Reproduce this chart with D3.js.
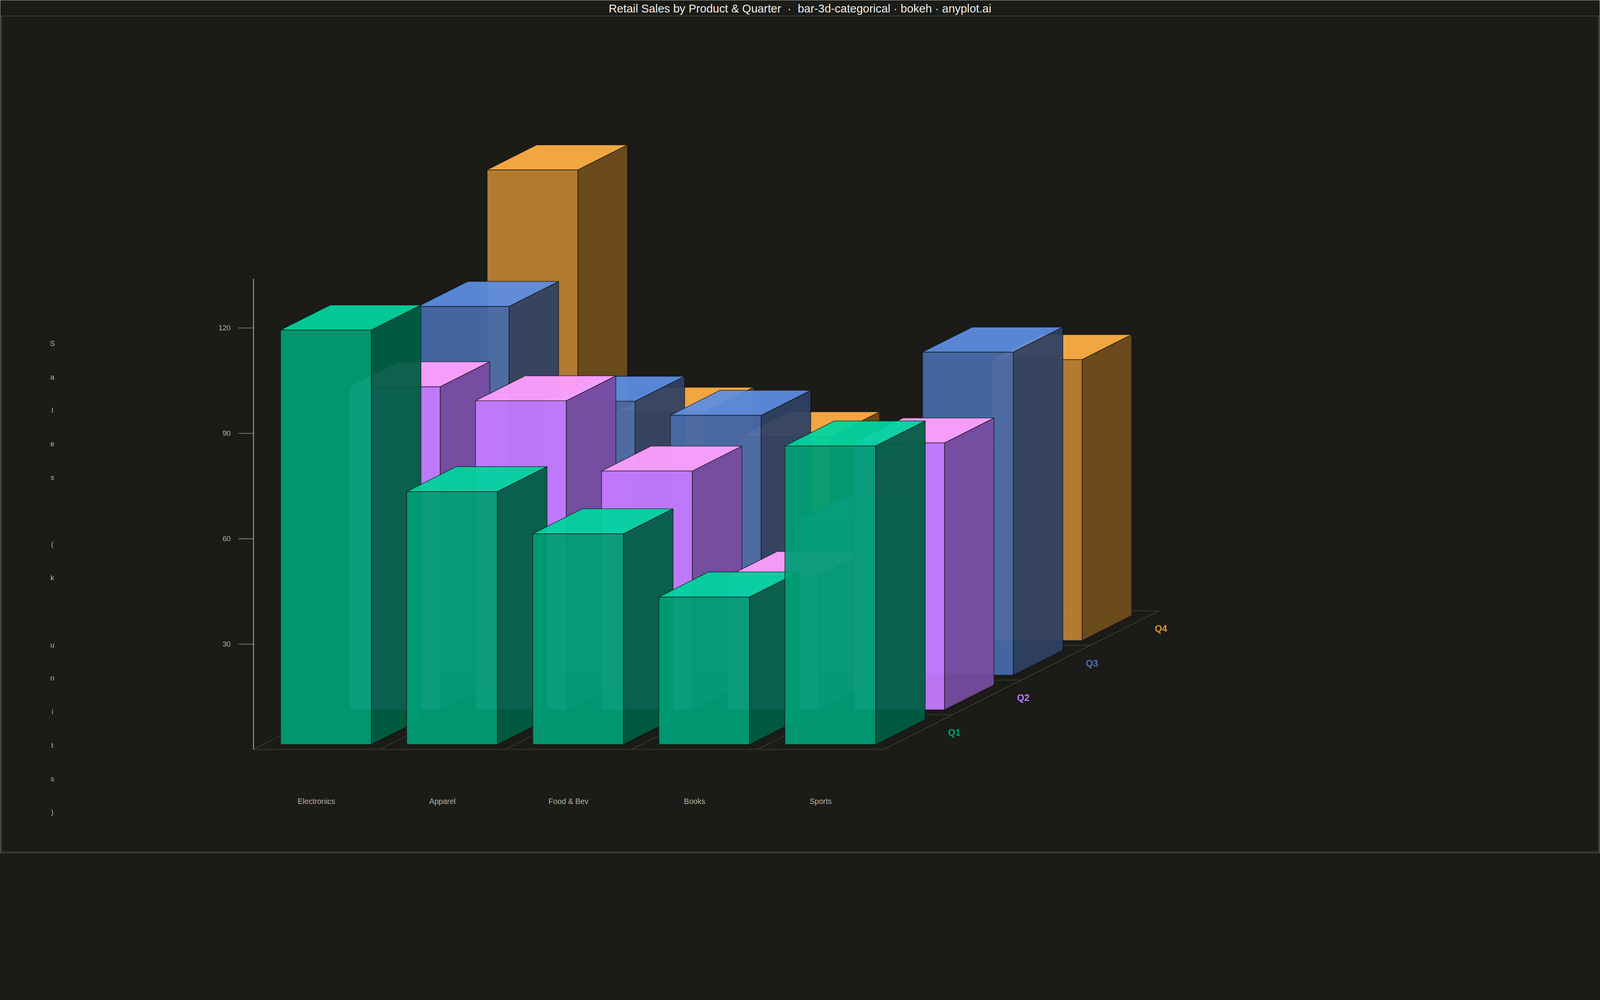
<!DOCTYPE html>
<html>
<head>
<meta charset="utf-8">
<script src="https://cdn.jsdelivr.net/npm/d3@7"></script>
<style>
  html, body { margin: 0; padding: 0; background: #1b1b17; overflow: hidden; }
  svg { display: block; width: 100vw; height: auto; }
</style>
</head>
<body>
<div id="chart"></div>
<script>
// ---- data ----
var categories = ["Electronics", "Apparel", "Food & Bev", "Books", "Sports"];
var quarters = ["Q1", "Q2", "Q3", "Q4"];
var salesQ1 = [118, 72, 60, 42, 85];
var salesQ2 = [92, 88, 68, 38, 76];
var salesQ3 = [105, 78, 74, 44, 92];
var salesQ4 = [134, 65, 58, 50, 80];
var yTicks = [30, 60, 90, 120];
var yLabel = "Sales (k units)";
var title = "Retail Sales by Product & Quarter  \u00b7  bar-3d-categorical \u00b7 bokeh \u00b7 anyplot.ai";

var series = [salesQ1, salesQ2, salesQ3, salesQ4];

// ---- look ----
var svgWidth = 4800;
var svgHeight = 2561;
var bg = "#1b1b17";
var font = "'Liberation Sans', Arial, sans-serif";

// colours as they appear on the dark background (front, top, side)
var frontColors = ["#00966f", "#bb74f6", "#4465a0", "#b27c31"];
var topColors   = ["#00c896", "#f598f5", "#5886d4", "#f2a642"];
var sideColors  = ["#005a40", "#724898", "#2e3f5f", "#6c4b1d"];
var labelColors = ["#00a078", "#c07af5", "#4a70b5", "#d48e3a"];
var faceAlpha = 0.94;

// undo the blend so the face shows the observed colour over the background
function base(c) {
  var o = d3.rgb(c), b = d3.rgb(bg);
  var f = function(v, w) { return Math.max(0, Math.min(255, Math.round((v - (1 - faceAlpha) * w) / faceAlpha))); };
  return d3.rgb(f(o.r, b.r), f(o.g, b.g), f(o.b, b.b)).formatHex();
}

// floor geometry
var floorLeft = 760, floorRight = 2651, floorY = 2249;
var depthDx = 206.5, depthDy = -104;   // screen shift for one quarter slot
var pxPerUnit = 10.543;

// the svg scales to the window width, drawn in 4800x2561 units
var svg = d3.select("#chart")
  .append("svg")
  .attr("viewBox", "0 0 " + svgWidth + " " + svgHeight)
  .attr("preserveAspectRatio", "xMidYMid meet");

svg.append("rect")
  .attr("width", svgWidth).attr("height", svgHeight)
  .attr("fill", bg);

// frames
svg.append("rect")
  .attr("x", 0.5).attr("y", 0.5)
  .attr("width", svgWidth - 1).attr("height", svgHeight - 1)
  .attr("fill", "none").attr("stroke", "#c4c4c0").attr("stroke-width", 1);

svg.append("rect")
  .attr("x", 5).attr("y", 48)
  .attr("width", svgWidth - 10).attr("height", svgHeight - 53)
  .attr("fill", "none").attr("stroke", "#55554f").attr("stroke-width", 1.5);

// title
svg.append("text")
  .attr("x", svgWidth / 2).attr("y", 37)
  .attr("text-anchor", "middle")
  .attr("font-family", font).attr("font-size", 34.5)
  .attr("fill", "#f0f0ee")
  .style("white-space", "pre")
  .text(title);

// scales
var yMax = d3.max(series, function(s) { return d3.max(s); });

var xScale = d3.scaleBand()
  .domain(categories)
  .range([floorLeft, floorRight])
  .paddingInner(0.28)
  .paddingOuter(0.14);

var zScale = d3.scaleBand()
  .domain(quarters)
  .range([0, quarters.length])
  .paddingInner(0.28)
  .paddingOuter(0.14);

var yScale = d3.scaleLinear()
  .domain([0, yMax])
  .range([floorY, floorY - yMax * pxPerUnit]);

function proj(x, z, v) {
  return [x + z * depthDx, yScale(v) + z * depthDy];
}

function poly(pts) {
  return "M" + pts.map(function(p) { return p[0] + "," + p[1]; }).join("L") + "Z";
}

// floor grid
var grid = svg.append("g")
  .attr("stroke", "#3c3c37")
  .attr("stroke-width", 2)
  .attr("fill", "none");

var step = xScale.step();
d3.range(categories.length + 1).forEach(function(i) {
  var x = floorLeft + i * step;
  grid.append("path").attr("d", "M" + proj(x, 0, 0) + "L" + proj(x, quarters.length, 0));
});
d3.range(quarters.length + 1).forEach(function(k) {
  grid.append("path").attr("d", "M" + proj(floorLeft, k, 0) + "L" + proj(floorRight, k, 0));
});
grid.append("path").attr("d", "M" + proj(floorRight, 0, 0) + "L" + proj(floorRight, quarters.length, 0));

// bars, back row first, left to right
var bars = svg.append("g")
  .attr("stroke", "rgba(12,12,10,0.8)")
  .attr("stroke-width", 2)
  .attr("stroke-linejoin", "round");

d3.range(quarters.length - 1, -1, -1).forEach(function(s) {
  var q = quarters[s];
  var z0 = zScale(q), z1 = z0 + zScale.bandwidth();
  categories.forEach(function(c, i) {
    var v = series[s][i];
    var x0 = xScale(c), x1 = x0 + xScale.bandwidth();
    var g = bars.append("g").attr("fill-opacity", faceAlpha).attr("stroke-opacity", 0.9);
    g.append("path")
      .attr("d", poly([proj(x0, z0, 0), proj(x1, z0, 0), proj(x1, z0, v), proj(x0, z0, v)]))
      .attr("fill", base(frontColors[s]));
    g.append("path")
      .attr("d", poly([proj(x1, z0, 0), proj(x1, z1, 0), proj(x1, z1, v), proj(x1, z0, v)]))
      .attr("fill", base(sideColors[s]));
    g.append("path")
      .attr("d", poly([proj(x0, z0, v), proj(x1, z0, v), proj(x1, z1, v), proj(x0, z1, v)]))
      .attr("fill", base(topColors[s]));
  });
});

// y axis
var yAxis = d3.axisLeft(yScale)
  .tickValues(yTicks)
  .tickSize(45)
  .tickSizeOuter(0)
  .tickPadding(23);

var axisG = svg.append("g")
  .attr("transform", "translate(" + floorLeft + ",0)")
  .call(yAxis);

axisG.select(".domain").attr("stroke", "#a8a8a2").attr("stroke-width", 2.5);
axisG.selectAll(".tick line").attr("stroke", "#a8a8a2").attr("stroke-width", 1.5);
axisG.selectAll(".tick text")
  .attr("fill", "#b0b0aa")
  .attr("font-family", font)
  .attr("font-size", 22);

// y label, one character per line
svg.append("g")
  .selectAll("text")
  .data(yLabel.split(""))
  .enter()
  .append("text")
  .attr("x", 157)
  .attr("y", function(d, i) { return 1038 + i * 100.5; })
  .attr("text-anchor", "middle")
  .attr("font-family", font)
  .attr("font-size", 22)
  .attr("fill", "#b4b4ae")
  .text(function(d) { return d; });

// category labels
svg.append("g")
  .selectAll("text")
  .data(categories)
  .enter()
  .append("text")
  .attr("x", function(d) { return xScale(d) + xScale.bandwidth() / 2; })
  .attr("y", 2413)
  .attr("text-anchor", "middle")
  .attr("font-family", font)
  .attr("font-size", 23)
  .attr("fill", "#b4b4ae")
  .text(function(d) { return d; });

// quarter labels along the right edge of the floor
svg.append("g")
  .selectAll("text")
  .data(quarters)
  .enter()
  .append("text")
  .attr("x", function(d) { return proj(floorRight, zScale(d) + zScale.bandwidth() / 2, 0)[0] + 109; })
  .attr("y", function(d) { return proj(floorRight, zScale(d) + zScale.bandwidth() / 2, 0)[1] + 11; })
  .attr("text-anchor", "middle")
  .attr("font-family", font)
  .attr("font-size", 28)
  .attr("font-weight", "bold")
  .attr("fill", function(d, i) { return labelColors[i]; })
  .text(function(d) { return d; });
</script>
</body>
</html>
